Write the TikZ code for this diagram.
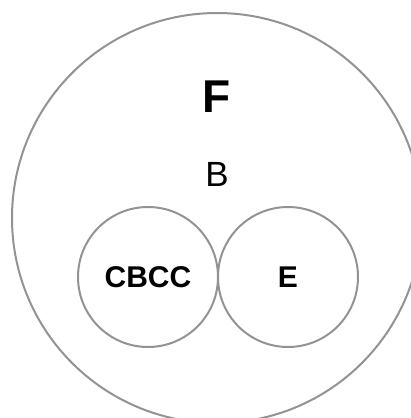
\documentclass[tikz,border=0pt]{standalone}
\usepackage{fontspec}
\setmainfont{Liberation Sans}
\usepackage{tikz}
\usetikzlibrary{positioning}

\begin{document}
\begin{tikzpicture}[x=1pt, y=1pt, line width=2pt,
        outer/.style = {draw=gray!85, circle, inner sep=0pt, minimum size=410pt},
        part/.style = {draw=gray!85, circle, inner sep=0pt, minimum size=140pt, font=\fontsize{30}{30}\selectfont\bfseries},
        big/.style = {font=\fontsize{46}{46}\selectfont\bfseries},
        mid/.style = {font=\fontsize{35}{35}\selectfont}]
                \useasboundingbox (0,0) rectangle (411,-418);
                \node[outer] (f) at (217,-218) {};
                \node[big] (fl) at (217,-97) {F};
                \node[mid] (b) at (217,-174) {B};
                \node[part] (cbcc) at (148,-277) {CBCC};
                \node[part] (e) [right=-2pt of cbcc] {E};
            \end{tikzpicture}
\end{document}
